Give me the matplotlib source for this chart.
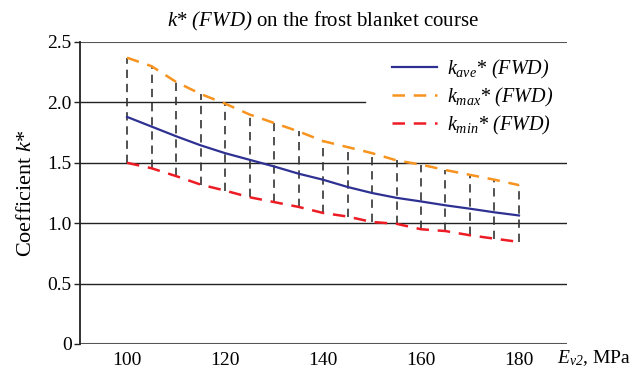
import matplotlib
matplotlib.use("Agg")
import matplotlib.pyplot as plt
import numpy as np

# Data
e_v2 = [100, 105, 110, 115, 120, 125, 130, 135, 140, 145, 150, 155, 160, 165, 170, 175, 180]
k_max = [2.37, 2.30, 2.17, 2.07, 1.99, 1.90, 1.83, 1.76, 1.68, 1.63, 1.58, 1.52, 1.485, 1.44, 1.40, 1.36, 1.315]
k_ave = [1.88, 1.80, 1.72, 1.645, 1.58, 1.525, 1.47, 1.41, 1.36, 1.30, 1.25, 1.21, 1.18, 1.148, 1.12, 1.09, 1.064]
k_min = [1.50, 1.455, 1.39, 1.32, 1.27, 1.215, 1.175, 1.135, 1.085, 1.055, 1.01, 0.995, 0.95, 0.935, 0.90, 0.872, 0.845]
y_ticks = [0, 0.5, 1.0, 1.5, 2.0, 2.5]
y_tick_labels = ["0", "0.5", "1.0", "1.5", "2.0", "2.5"]
x_ticks = [100, 120, 140, 160, 180]

plt.rcParams['font.family'] = ['Liberation Serif', 'DejaVu Serif']
plt.rcParams['mathtext.fontset'] = 'custom'
plt.rcParams['mathtext.rm'] = 'Liberation Serif:italic'
plt.rcParams['mathtext.it'] = 'Liberation Serif:italic'

fig = plt.figure(figsize=(6.33, 3.74), dpi=100)
ax = fig.add_axes([80/633, 1-344/374, (567-80)/633, (344-42)/374])

ax.set_xlim(90.4, 189.8)
ax.set_ylim(0, 2.5)

# horizontal grid lines (2.0 line interrupted by the legend area)
for yv in y_ticks:
    if yv in (0, 2.5):
        ax.axhline(yv, color='#555555', lw=1.5, zorder=1)
    elif yv == 2.0:
        ax.axhline(yv, xmax=0.585, color='#222222', lw=1.0, zorder=1)
    else:
        ax.axhline(yv, color='#222222', lw=1.0, zorder=1)

# vertical dashed range lines
ax.vlines(e_v2, k_min, k_max, colors='#333333', linestyles=(0, (5, 3.5)), lw=1.2, zorder=2)

ax.plot(e_v2, k_ave, color='#2E3192', lw=1.6, label=r'$k_{ave}$* (FWD)', zorder=3)
ax.plot(e_v2, k_max, color='#F7931E', lw=1.8, ls=(0, (5, 3.5)), label=r'$k_{max}$* (FWD)', zorder=3)
ax.plot(e_v2, k_min, color='#ED1C24', lw=1.8, ls=(0, (5, 3.5)), label=r'$k_{min}$* (FWD)', zorder=3)

for s in ['top', 'right', 'bottom']:
    ax.spines[s].set_visible(False)
ax.spines['left'].set_color('#222222')
ax.spines['left'].set_linewidth(1.3)
ax.spines['left'].set_zorder(4)

ax.set_yticks(y_ticks)
ax.set_yticklabels(y_tick_labels)
ax.set_xticks(x_ticks)
ax.tick_params(axis='y', length=4, width=1, pad=2, labelsize=14, color='#222222')
ax.tick_params(axis='x', length=0, pad=5.5, labelsize=14)

ax.set_ylabel(r'Coefficient $k$*', fontsize=16, labelpad=8)
fig.text(557/633, 1-358/374, r'$E_{v2}$, MPa', fontsize=14, ha='left', va='center')

ax.set_title(r'$k$* $(FWD)$ on the frost blanket course', fontsize=15, pad=11)

leg = ax.legend(loc='upper left', bbox_to_anchor=(0.624, 0.975), frameon=False,
                prop={'family': 'Liberation Serif', 'style': 'italic', 'size': 14.5},
                handlelength=2.25, handletextpad=0.5, labelspacing=0.25,
                borderpad=0.4, borderaxespad=0)
leg.set_zorder(5)

fig.savefig('out.png', dpi=100)
